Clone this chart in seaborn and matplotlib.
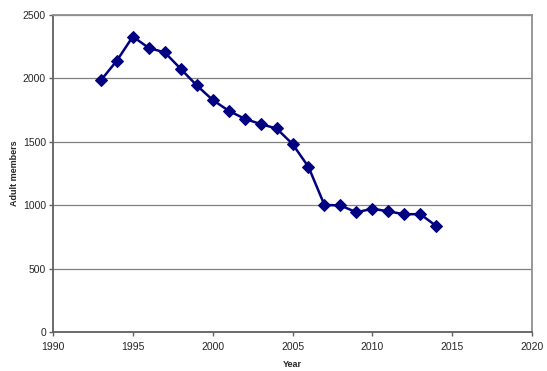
import matplotlib
matplotlib.use("Agg")
import matplotlib.pyplot as plt
import seaborn as sns
import pandas as pd

years = [1993, 1994, 1995, 1996, 1997, 1998, 1999, 2000, 2001, 2002, 2003,
         2004, 2005, 2006, 2007, 2008, 2009, 2010, 2011, 2012, 2013, 2014]
members = [1985, 2140, 2330, 2240, 2205, 2075, 1945, 1830, 1745, 1682, 1640,
           1605, 1483, 1302, 1002, 998, 944, 972, 952, 928, 930, 836]
x_ticks = [1990, 1995, 2000, 2005, 2010, 2015, 2020]
y_ticks = [0, 500, 1000, 1500, 2000, 2500]

sns.set_style("white")
plt.rcParams['font.family'] = ['Liberation Sans', 'DejaVu Sans']

df = pd.DataFrame({"Year": years, "Adult members": members})

fig = plt.figure(figsize=(5.47, 3.71), dpi=100)
ax = fig.add_axes([53/547, 1 - 332/371, (532-53)/547, (332-15)/371])

sns.lineplot(data=df, x="Year", y="Adult members", ax=ax, color="#000080",
             linewidth=1.8, marker="D", markersize=6.5, markeredgecolor="#000080")

ax.set_xlim(1990, 2020)
ax.set_ylim(0, 2500)
ax.set_xticks(x_ticks)
ax.set_yticks(y_ticks)
ax.yaxis.grid(True, color="#808080", linewidth=0.9)
ax.set_axisbelow(True)
for s in ["left", "bottom"]:
    ax.spines[s].set_color("#606060")
    ax.spines[s].set_linewidth(1.3)
for s in ["top", "right"]:
    ax.spines[s].set_color("#909090")
    ax.spines[s].set_linewidth(1.3)
ax.tick_params(axis="both", which="both", direction="out", length=3, width=1,
               color="#606060", labelsize=7.5, pad=2, left=True, bottom=True)
ax.tick_params(axis="x", pad=4)
ax.set_xlabel("Year", fontsize=6.5, fontweight="bold", labelpad=6)
ax.set_ylabel("Adult members", fontsize=6.5, fontweight="bold", labelpad=3)

fig.savefig("out.png", dpi=100)
